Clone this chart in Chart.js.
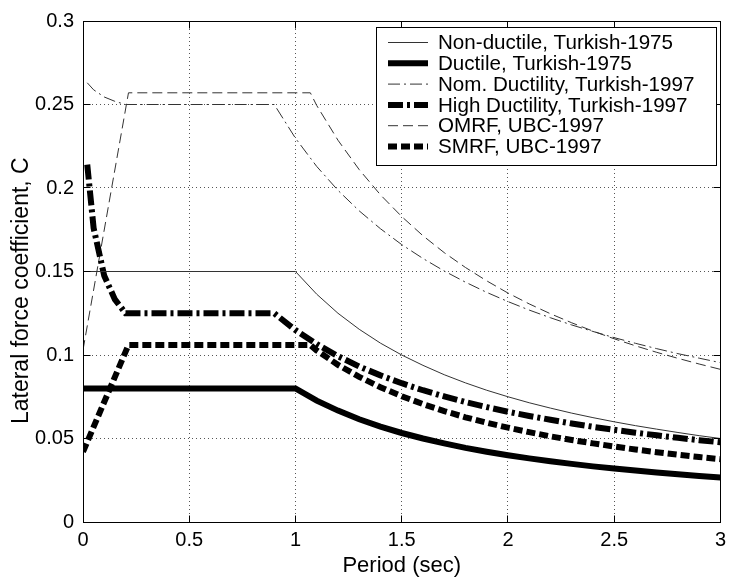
<!DOCTYPE html>
<html>
<head>
<meta charset="utf-8">
<title>Lateral force coefficient</title>
<script src="https://cdn.jsdelivr.net/npm/chart.js@4.4.1/dist/chart.umd.min.js"></script>
<style>
  body { margin: 0; background: #fff; }
  #wrap { width: 732px; height: 582px; }
</style>
</head>
<body>
<div id="wrap"><canvas id="myChart" width="732" height="582"></canvas></div>
<script>
// Turkish-1975 code
let periods75 = [0, 1, 1.1, 1.2, 1.3, 1.4, 1.5, 1.6, 1.7, 1.8, 1.9, 2, 2.1, 2.2, 2.3, 2.4, 2.5, 2.6, 2.7, 2.8, 2.9, 3];
let nonDuctile75 = [0.15, 0.15, 0.1364, 0.125, 0.1154, 0.1071, 0.1, 0.0938, 0.0882, 0.0833, 0.0789, 0.075, 0.0714, 0.0682, 0.0652, 0.0625, 0.06, 0.0577, 0.0556, 0.0536, 0.0517, 0.05];
let ductile75 = [0.08, 0.08, 0.0727, 0.0667, 0.0615, 0.0571, 0.0533, 0.05, 0.0471, 0.0444, 0.0421, 0.04, 0.0381, 0.0364, 0.0348, 0.0333, 0.032, 0.0308, 0.0296, 0.0286, 0.0276, 0.0267];

// Turkish-1997 code
let periods97 = [0.02, 0.05, 0.1, 0.15, 0.2, 0.9, 1, 1.1, 1.2, 1.3, 1.4, 1.5, 1.6, 1.7, 1.8, 1.9, 2, 2.1, 2.2, 2.3, 2.4, 2.5, 2.6, 2.7, 2.8, 2.9, 3];
let nominal97 = [0.263, 0.2588, 0.2545, 0.2519, 0.25, 0.25, 0.2298, 0.2129, 0.1986, 0.1863, 0.1756, 0.1661, 0.1578, 0.1503, 0.1436, 0.1375, 0.132, 0.1269, 0.1223, 0.118, 0.1141, 0.1104, 0.107, 0.1038, 0.1008, 0.0981, 0.0954];
let high97 = [0.214, 0.176, 0.1474, 0.1333, 0.125, 0.125, 0.1149, 0.1065, 0.0993, 0.0931, 0.0878, 0.0831, 0.0789, 0.0752, 0.0718, 0.0688, 0.066, 0.0635, 0.0612, 0.059, 0.057, 0.0552, 0.0535, 0.0519, 0.0504, 0.049, 0.0477];

// UBC-1997
let periodsUbc = [0, 0.214, 1.07, 1.1, 1.2, 1.3, 1.4, 1.5, 1.6, 1.7, 1.8, 1.9, 2, 2.1, 2.2, 2.3, 2.4, 2.5, 2.6, 2.7, 2.8, 2.9, 3];
let omrf = [0.103, 0.257, 0.257, 0.2494, 0.2286, 0.211, 0.1959, 0.1829, 0.1714, 0.1613, 0.1524, 0.1444, 0.1371, 0.1306, 0.1247, 0.1193, 0.1143, 0.1097, 0.1055, 0.1016, 0.098, 0.0946, 0.0914];
let smrf = [0.042, 0.106, 0.106, 0.1027, 0.0941, 0.0869, 0.0807, 0.0753, 0.0706, 0.0664, 0.0627, 0.0594, 0.0565, 0.0538, 0.0513, 0.0491, 0.0471, 0.0452, 0.0434, 0.0418, 0.0403, 0.0389, 0.0376];

let seriesNames = ["Non-ductile, Turkish-1975", "Ductile, Turkish-1975", "Nom. Ductility, Turkish-1997", "High Ductility, Turkish-1997", "OMRF, UBC-1997", "SMRF, UBC-1997"];

let xTicks = [0, 0.5, 1, 1.5, 2, 2.5, 3];
let xTickLabels = ["0", "0.5", "1", "1.5", "2", "2.5", "3"];
let yTicks = [0, 0.05, 0.1, 0.15, 0.2, 0.25, 0.3];
let yTickLabels = ["0", "0.05", "0.1", "0.15", "0.2", "0.25", "0.3"];

let font = "'Liberation Sans', Arial, Helvetica, sans-serif";

function pts(xs, ys) {
  return xs.map((x, i) => ({ x: x, y: ys[i] }));
}

function line(name, xs, ys, width, dash, color) {
  return {
    label: name,
    data: pts(xs, ys),
    borderColor: color,
    borderWidth: width,
    borderDash: dash,
    pointRadius: 0,
    fill: false,
    tension: 0
  };
}

// matlab style box, inward ticks and legend
let framePlugin = {
  id: "frame",
  afterDatasetsDraw(chart) {
    let ctx = chart.ctx;
    let a = chart.chartArea;
    let xs = chart.scales.x;
    let ys = chart.scales.y;
    let L = Math.round(a.left - 0.5) + 0.5;
    let R = Math.round(a.right - 0.5) + 0.5;
    let T = Math.round(a.top - 0.5) + 0.5;
    let B = Math.round(a.bottom - 0.5) + 0.5;
    ctx.save();
    ctx.setLineDash([]);
    ctx.strokeStyle = "#000";
    ctx.lineWidth = 1;
    ctx.strokeRect(L, T, R - L, B - T);
    ctx.beginPath();
    xTicks.forEach(v => {
      let p = Math.round(xs.getPixelForValue(v) - 0.5) + 0.5;
      ctx.moveTo(p, B); ctx.lineTo(p, B - 7);
      ctx.moveTo(p, T); ctx.lineTo(p, T + 7);
    });
    yTicks.forEach(v => {
      let p = Math.round(ys.getPixelForValue(v) - 0.5) + 0.5;
      ctx.moveTo(L, p); ctx.lineTo(L + 7, p);
      ctx.moveTo(R, p); ctx.lineTo(R - 7, p);
    });
    ctx.stroke();
    ctx.restore();
  },
  afterDraw(chart) {
    let ctx = chart.ctx;
    let bx = 376.5, by = 27.5, bw = 340, bh = 138;
    ctx.save();
    ctx.fillStyle = "#fff";
    ctx.fillRect(bx, by, bw, bh);
    ctx.strokeStyle = "#000";
    ctx.lineWidth = 1;
    ctx.setLineDash([]);
    ctx.strokeRect(bx, by, bw, bh);
    ctx.font = "20.6px " + font;
    ctx.textBaseline = "middle";
    ctx.textAlign = "left";
    chart.data.datasets.forEach((ds, i) => {
      let y = 42.5 + i * 20.8;
      ctx.beginPath();
      ctx.strokeStyle = ds.borderColor;
      ctx.lineWidth = ds.borderWidth;
      ctx.setLineDash(ds.borderDash || []);
      ctx.moveTo(388, y);
      ctx.lineTo(428, y);
      ctx.stroke();
      ctx.fillStyle = "#000";
      ctx.fillText(ds.label, 438, y + 1);
    });
    ctx.restore();
  }
};

let ctx = document.getElementById("myChart");

new Chart(ctx, {
  type: "line",
  data: {
    datasets: [
      line(seriesNames[0], periods75, nonDuctile75, 1, [], "#333"),
      line(seriesNames[1], periods75, ductile75, 6, [], "#000"),
      line(seriesNames[2], periods97, nominal97, 1, [12, 4, 2, 4], "#333"),
      line(seriesNames[3], periods97, high97, 6, [15, 4, 3, 4], "#000"),
      line(seriesNames[4], periodsUbc, omrf, 1, [10, 5], "#333"),
      line(seriesNames[5], periodsUbc, smrf, 6, [9, 4], "#000")
    ]
  },
  options: {
    responsive: false,
    animation: false,
    devicePixelRatio: 1,
    layout: { padding: { top: 15, right: 8, left: 0, bottom: 0 } },
    plugins: {
      legend: { display: false },
      tooltip: { enabled: false }
    },
    scales: {
      x: {
        type: "linear",
        min: 0,
        max: 3,
        afterFit: s => { s.height = 60; },
        afterBuildTicks: s => { s.ticks = xTicks.map(v => ({ value: v })); },
        grid: { color: "#555", lineWidth: 1, drawTicks: false },
        border: { display: true, color: "#000", width: 1, dash: [1, 3] },
        ticks: {
          padding: 6,
          color: "#000",
          font: { size: 20, family: font },
          maxRotation: 0,
          callback: (v, i) => xTickLabels[i]
        },
        title: {
          display: true,
          text: "Period (sec)",
          color: "#000",
          font: { size: 22, family: font },
          padding: { top: 0, bottom: 3 }
        }
      },
      y: {
        type: "linear",
        min: 0,
        max: 0.3,
        afterFit: s => { s.width = 83; },
        afterBuildTicks: s => { s.ticks = yTicks.map(v => ({ value: v })); },
        grid: { color: "#555", lineWidth: 1, drawTicks: false },
        border: { display: true, color: "#000", width: 1, dash: [1, 3] },
        ticks: {
          padding: 9,
          color: "#000",
          font: { size: 20, family: font },
          callback: (v, i) => yTickLabels[i]
        },
        title: {
          display: true,
          text: "Lateral force coefficient, C\u00a0\u00a0\u00a0\u00a0\u00a0\u00a0",
          color: "#000",
          font: { size: 23, family: font },
          padding: { top: 8, bottom: 0 }
        }
      }
    }
  },
  plugins: [framePlugin]
});
</script>
</body>
</html>
